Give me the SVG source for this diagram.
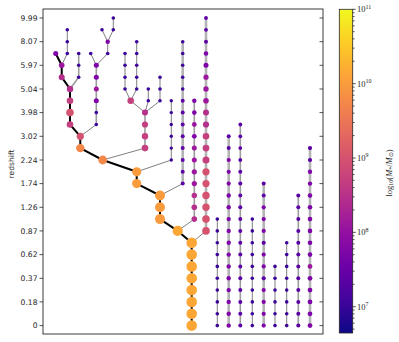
<svg xmlns="http://www.w3.org/2000/svg" width="399" height="342" viewBox="0 0 399 342">
<style>
.ax{fill:none;stroke:#262626;stroke-width:0.9}
.tk{stroke:#262626;stroke-width:0.8}
.lbl{font-family:"DejaVu Sans",sans-serif;font-size:7.6px;fill:#262626;text-anchor:end}
.cbl{font-family:"Liberation Serif",serif;font-size:8.5px;fill:#262626}
.main{stroke:#000;stroke-width:2;fill:none;stroke-linejoin:round}
.th{stroke:#5e5e5e;stroke-width:0.8;fill:none}
.md{stroke:#9c9c9c;stroke-width:1.6;fill:none}
.wd{stroke:#b4b4b4;stroke-width:2.6;fill:none}
.c1{fill:#3b049a}.c2{fill:#5c01a6}.c3{fill:#7e03a8}.c4{fill:#9c179e}.c5{fill:#b52f8c}.c6{fill:#c5407e}.c7{fill:#d5536f}.c8{fill:#e56b5d}.c9{fill:#f48849}.c10{fill:#fa9b3d}.c11{fill:#fca636}
</style>
<defs>
<linearGradient id="plasma" x1="0" y1="1" x2="0" y2="0">
<stop offset="0" stop-color="#0d0887"/><stop offset="0.1" stop-color="#41049d"/><stop offset="0.2" stop-color="#6a00a8"/><stop offset="0.3" stop-color="#8f0da4"/><stop offset="0.4" stop-color="#b12a90"/><stop offset="0.5" stop-color="#cc4778"/><stop offset="0.6" stop-color="#e16462"/><stop offset="0.7" stop-color="#f2844b"/><stop offset="0.8" stop-color="#fca636"/><stop offset="0.9" stop-color="#fcce25"/><stop offset="1" stop-color="#f0f921"/>
</linearGradient>
</defs>
<rect width="399" height="342" fill="#fff"/>
<g id="axes">
<rect class="ax" x="43" y="9" width="280" height="325"/>
<path class="tk" d="M39.5 18H43M39.5 41.7H43M39.5 65.3H43M39.5 89H43M39.5 112.6H43M39.5 136.3H43M39.5 160H43M39.5 183.6H43M39.5 207.3H43M39.5 230.9H43M39.5 254.6H43M39.5 278.3H43M39.5 301.9H43M39.5 325.6H43"/>
<path class="tk" d="M319.5 18H323M319.5 41.7H323M319.5 65.3H323M319.5 89H323M319.5 112.6H323M319.5 136.3H323M319.5 160H323M319.5 183.6H323M319.5 207.3H323M319.5 230.9H323M319.5 254.6H323M319.5 278.3H323M319.5 301.9H323M319.5 325.6H323"/>
<text class="lbl" x="37.5" y="20.7">9.99</text>
<text class="lbl" x="37.5" y="44.4">8.07</text>
<text class="lbl" x="37.5" y="68">5.97</text>
<text class="lbl" x="37.5" y="91.7">5.04</text>
<text class="lbl" x="37.5" y="115.3">3.98</text>
<text class="lbl" x="37.5" y="139">3.02</text>
<text class="lbl" x="37.5" y="162.7">2.24</text>
<text class="lbl" x="37.5" y="186.3">1.74</text>
<text class="lbl" x="37.5" y="210">1.26</text>
<text class="lbl" x="37.5" y="233.6">0.87</text>
<text class="lbl" x="37.5" y="257.3">0.62</text>
<text class="lbl" x="37.5" y="281">0.37</text>
<text class="lbl" x="37.5" y="304.6">0.18</text>
<text class="lbl" x="37.5" y="328.3">0</text>
<text class="lbl" style="text-anchor:middle" transform="translate(14,164) rotate(-90)">redshift</text>
</g>
<g id="connectors">
<polyline class="th" points="67.3,29.8 67.3,53.5 61.7,65.3"/>
<polyline class="md" points="78.7,53.5 78.7,77.2 70,89"/>
<polyline class="th" points="113.3,18 113.3,29.8 107.7,41.7 107.7,53.5 96.3,65.3"/>
<polyline class="th" points="102,29.8 107.7,41.7"/>
<polyline class="th" points="90.7,53.5 96.3,65.3"/>
<polyline class="md" points="96.3,65.3 96.3,124.5"/>
<polyline class="th" points="96.3,124.5 80.3,136.3"/>
<polyline class="th" points="125,53.5 125,89 130.7,100.8 145,112.6"/>
<polyline class="th" points="136.7,41.7 136.7,89 130.7,100.8"/>
<polyline class="th" points="148.3,89 148.3,100.8 145,112.6"/>
<polyline class="th" points="160,77.2 160,100.8 145,112.6"/>
<polyline class="md" points="145,112.6 145,148.1"/>
<polyline class="th" points="145,148.1 102.7,160"/>
<polyline class="th" points="171.3,100.8 171.3,160 136.7,171.8"/>
<polyline class="wd" points="182.7,41.7 182.7,183.6"/>
<polyline class="th" points="182.7,183.6 160,195.5"/>
<polyline class="md" points="194.3,100.8 194.3,219.1"/>
<polyline class="th" points="194.3,219.1 177.7,230.9"/>
<polyline class="wd" points="206,18 206,230.9"/>
<polyline class="th" points="206,230.9 191.7,242.8"/>
<polyline class="main" points="55.7,53.5 61.7,65.3 61.7,77.2 70,89 70,124.5 80.3,136.3 80.3,148.1 102.7,160 136.7,171.8 136.7,183.6 160,195.5 160,219.1 177.7,230.9 191.7,242.8 191.7,325.6"/>
<polyline class="th" points="217.3,219.1 217.3,325.6"/>
<polyline class="wd" points="228.7,136.3 228.7,325.6"/>
<polyline class="md" points="240.3,124.5 240.3,325.6"/>
<polyline class="th" points="252.3,219.1 252.3,325.6"/>
<polyline class="wd" points="263.7,183.6 263.7,325.6"/>
<polyline class="th" points="275,266.4 275,325.6"/>
<polyline class="th" points="286.7,242.8 286.7,325.6"/>
<polyline class="md" points="298.3,195.5 298.3,325.6"/>
<polyline class="wd" points="310,148.1 310,325.6"/>
</g>
<g id="treeA">
<circle class="c1" cx="67.3" cy="29.8" r="1.8"/><circle class="c1" cx="67.3" cy="41.7" r="1.8"/><circle class="c1" cx="67.3" cy="53.5" r="1.8"/>
<circle class="c1" cx="78.7" cy="53.5" r="1.8"/><circle class="c1" cx="78.7" cy="65.3" r="1.8"/><circle class="c1" cx="78.7" cy="77.2" r="1.8"/>
<circle class="c3" cx="55.7" cy="53.5" r="2.5"/>
<circle class="c4" cx="61.7" cy="65.3" r="2.8"/><circle class="c5" cx="61.7" cy="77.2" r="3"/>
<circle class="c5" cx="70" cy="89" r="3.2"/><circle class="c6" cx="70" cy="100.8" r="3.3"/><circle class="c7" cx="70" cy="112.6" r="3.8"/><circle class="c6" cx="70" cy="124.5" r="3.3"/>
<circle class="c7" cx="80.3" cy="136.3" r="3.6"/><circle class="c9" cx="80.3" cy="148.1" r="4.2"/>
<circle class="c9" cx="102.7" cy="160" r="4.4"/>
<circle class="c10" cx="136.7" cy="171.8" r="4.6"/><circle class="c10" cx="136.7" cy="183.6" r="4.6"/>
<circle class="c10" cx="160" cy="195.5" r="5"/><circle class="c10" cx="160" cy="207.3" r="5"/><circle class="c10" cx="160" cy="219.1" r="5"/>
<circle class="c11" cx="177.7" cy="230.9" r="5.1"/>
<circle class="c11" cx="191.7" cy="242.8" r="5.3"/><circle class="c11" cx="191.7" cy="254.6" r="5.3"/><circle class="c11" cx="191.7" cy="266.4" r="5.3"/><circle class="c11" cx="191.7" cy="278.3" r="5.3"/><circle class="c11" cx="191.7" cy="290.1" r="5.3"/><circle class="c11" cx="191.7" cy="301.9" r="5.3"/><circle class="c11" cx="191.7" cy="313.8" r="5.3"/><circle class="c11" cx="191.7" cy="325.6" r="5.3"/>
</g>
<g id="treeB">
<circle class="c1" cx="113.3" cy="18" r="1.8"/><circle class="c1" cx="113.3" cy="29.8" r="1.8"/><circle class="c1" cx="102" cy="29.8" r="1.8"/>
<circle class="c3" cx="107.7" cy="41.7" r="2.2"/><circle class="c1" cx="107.7" cy="53.5" r="1.8"/><circle class="c1" cx="90.7" cy="53.5" r="1.8"/>
<circle class="c3" cx="96.3" cy="65.3" r="2.5"/><circle class="c3" cx="96.3" cy="77.2" r="2.5"/><circle class="c4" cx="96.3" cy="89" r="2.5"/><circle class="c3" cx="96.3" cy="100.8" r="2.5"/>
<circle class="c1" cx="96.3" cy="112.6" r="1.8"/><circle class="c1" cx="96.3" cy="124.5" r="1.8"/>
</g>
<g id="treeC">
<circle class="c1" cx="125" cy="53.5" r="1.8"/><circle class="c1" cx="125" cy="65.3" r="1.8"/><circle class="c1" cx="125" cy="77.2" r="1.8"/><circle class="c1" cx="125" cy="89" r="1.8"/>
<circle class="c1" cx="136.7" cy="41.7" r="1.8"/><circle class="c1" cx="136.7" cy="53.5" r="1.8"/><circle class="c1" cx="136.7" cy="65.3" r="1.8"/><circle class="c1" cx="136.7" cy="77.2" r="1.8"/><circle class="c1" cx="136.7" cy="89" r="1.8"/>
<circle class="c6" cx="130.7" cy="100.8" r="3.3"/>
<circle class="c1" cx="148.3" cy="89" r="1.8"/><circle class="c1" cx="148.3" cy="100.8" r="1.8"/>
<circle class="c1" cx="160" cy="77.2" r="1.8"/><circle class="c1" cx="160" cy="89" r="1.8"/><circle class="c1" cx="160" cy="100.8" r="1.8"/>
<circle class="c5" cx="145" cy="112.6" r="3"/><circle class="c6" cx="145" cy="124.5" r="3.1"/><circle class="c6" cx="145" cy="136.3" r="3.2"/><circle class="c6" cx="145" cy="148.1" r="3.3"/>
</g>
<g id="treeD">
<circle class="c1" cx="171.3" cy="100.8" r="1.7"/><circle class="c1" cx="171.3" cy="112.6" r="1.7"/><circle class="c1" cx="171.3" cy="124.5" r="1.7"/><circle class="c1" cx="171.3" cy="136.3" r="1.7"/><circle class="c1" cx="171.3" cy="148.1" r="1.7"/><circle class="c1" cx="171.3" cy="160" r="1.7"/>
</g>
<g id="treeE">
<circle class="c1" cx="182.7" cy="41.7" r="1.8"/><circle class="c1" cx="182.7" cy="53.5" r="1.8"/><circle class="c1" cx="182.7" cy="65.3" r="1.8"/><circle class="c1" cx="182.7" cy="77.2" r="1.8"/><circle class="c1" cx="182.7" cy="89" r="1.8"/>
<circle class="c2" cx="182.7" cy="100.8" r="2"/><circle class="c2" cx="182.7" cy="112.6" r="2"/><circle class="c2" cx="182.7" cy="124.5" r="2"/><circle class="c2" cx="182.7" cy="136.3" r="2"/><circle class="c2" cx="182.7" cy="148.1" r="2"/><circle class="c2" cx="182.7" cy="160" r="2"/><circle class="c2" cx="182.7" cy="171.8" r="2"/><circle class="c2" cx="182.7" cy="183.6" r="2"/>
</g>
<g id="treeF">
<circle class="c3" cx="194.3" cy="100.8" r="2.2"/><circle class="c3" cx="194.3" cy="112.6" r="2.3"/><circle class="c4" cx="194.3" cy="124.5" r="2.4"/><circle class="c3" cx="194.3" cy="136.3" r="2.4"/><circle class="c4" cx="194.3" cy="148.1" r="2.5"/><circle class="c4" cx="194.3" cy="160" r="2.5"/><circle class="c4" cx="194.3" cy="171.8" r="2.6"/><circle class="c4" cx="194.3" cy="183.6" r="2.6"/><circle class="c5" cx="194.3" cy="195.5" r="2.7"/><circle class="c5" cx="194.3" cy="207.3" r="2.8"/><circle class="c5" cx="194.3" cy="219.1" r="2.8"/>
</g>
<g id="treeG">
<circle class="c2" cx="206" cy="18" r="1.9"/><circle class="c2" cx="206" cy="29.8" r="1.9"/><circle class="c2" cx="206" cy="41.7" r="2"/><circle class="c3" cx="206" cy="53.5" r="2.3"/><circle class="c3" cx="206" cy="65.3" r="2.5"/><circle class="c4" cx="206" cy="77.2" r="2.6"/><circle class="c4" cx="206" cy="89" r="2.7"/><circle class="c4" cx="206" cy="100.8" r="2.8"/><circle class="c5" cx="206" cy="112.6" r="3"/><circle class="c5" cx="206" cy="124.5" r="3.1"/><circle class="c6" cx="206" cy="136.3" r="3.3"/><circle class="c6" cx="206" cy="148.1" r="3.4"/><circle class="c6" cx="206" cy="160" r="3.5"/><circle class="c7" cx="206" cy="171.8" r="3.6"/><circle class="c7" cx="206" cy="183.6" r="3.6"/><circle class="c7" cx="206" cy="195.5" r="3.7"/><circle class="c7" cx="206" cy="207.3" r="3.7"/><circle class="c7" cx="206" cy="219.1" r="3.8"/><circle class="c7" cx="206" cy="230.9" r="3.8"/>
</g>
<g id="treeH">
<circle class="c1" cx="217.3" cy="219.1" r="1.8"/><circle class="c1" cx="217.3" cy="230.9" r="1.8"/><circle class="c1" cx="217.3" cy="242.8" r="1.8"/><circle class="c1" cx="217.3" cy="254.6" r="1.8"/><circle class="c1" cx="217.3" cy="266.4" r="1.8"/><circle class="c1" cx="217.3" cy="278.3" r="1.8"/><circle class="c1" cx="217.3" cy="290.1" r="1.8"/><circle class="c1" cx="217.3" cy="301.9" r="1.8"/><circle class="c1" cx="217.3" cy="313.8" r="1.8"/><circle class="c1" cx="217.3" cy="325.6" r="1.8"/>
</g>
<g id="treeI">
<circle class="c2" cx="228.7" cy="136.3" r="2"/><circle class="c2" cx="228.7" cy="148.1" r="2"/><circle class="c3" cx="228.7" cy="160" r="2.1"/><circle class="c3" cx="228.7" cy="171.8" r="2.1"/><circle class="c3" cx="228.7" cy="183.6" r="2.1"/><circle class="c3" cx="228.7" cy="195.5" r="2.2"/><circle class="c3" cx="228.7" cy="207.3" r="2.2"/><circle class="c3" cx="228.7" cy="219.1" r="2.2"/><circle class="c3" cx="228.7" cy="230.9" r="2.2"/><circle class="c3" cx="228.7" cy="242.8" r="2.2"/><circle class="c3" cx="228.7" cy="254.6" r="2.2"/><circle class="c3" cx="228.7" cy="266.4" r="2.2"/><circle class="c3" cx="228.7" cy="278.3" r="2.2"/><circle class="c3" cx="228.7" cy="290.1" r="2.2"/><circle class="c3" cx="228.7" cy="301.9" r="2.2"/><circle class="c3" cx="228.7" cy="313.8" r="2.2"/><circle class="c3" cx="228.7" cy="325.6" r="2.2"/>
</g>
<g id="treeJ">
<circle class="c2" cx="240.3" cy="124.5" r="1.9"/><circle class="c2" cx="240.3" cy="136.3" r="1.9"/><circle class="c2" cx="240.3" cy="148.1" r="1.9"/><circle class="c2" cx="240.3" cy="160" r="1.9"/><circle class="c2" cx="240.3" cy="171.8" r="2"/><circle class="c2" cx="240.3" cy="183.6" r="2"/><circle class="c2" cx="240.3" cy="195.5" r="2"/><circle class="c2" cx="240.3" cy="207.3" r="2"/><circle class="c2" cx="240.3" cy="219.1" r="2"/><circle class="c2" cx="240.3" cy="230.9" r="2"/><circle class="c2" cx="240.3" cy="242.8" r="2"/><circle class="c2" cx="240.3" cy="254.6" r="2"/><circle class="c2" cx="240.3" cy="266.4" r="2"/><circle class="c2" cx="240.3" cy="278.3" r="2"/><circle class="c2" cx="240.3" cy="290.1" r="2"/><circle class="c2" cx="240.3" cy="301.9" r="2"/><circle class="c2" cx="240.3" cy="313.8" r="2"/><circle class="c2" cx="240.3" cy="325.6" r="2"/>
</g>
<g id="treeK">
<circle class="c1" cx="252.3" cy="219.1" r="1.8"/><circle class="c1" cx="252.3" cy="230.9" r="1.8"/><circle class="c1" cx="252.3" cy="242.8" r="1.8"/><circle class="c1" cx="252.3" cy="254.6" r="1.8"/><circle class="c1" cx="252.3" cy="266.4" r="1.8"/><circle class="c1" cx="252.3" cy="278.3" r="1.8"/><circle class="c1" cx="252.3" cy="290.1" r="1.8"/><circle class="c1" cx="252.3" cy="301.9" r="1.8"/><circle class="c1" cx="252.3" cy="313.8" r="1.8"/><circle class="c1" cx="252.3" cy="325.6" r="1.8"/>
</g>
<g id="treeL">
<circle class="c2" cx="263.7" cy="183.6" r="2"/><circle class="c2" cx="263.7" cy="195.5" r="2"/><circle class="c3" cx="263.7" cy="207.3" r="2.1"/><circle class="c3" cx="263.7" cy="219.1" r="2.1"/><circle class="c3" cx="263.7" cy="230.9" r="2.1"/><circle class="c2" cx="263.7" cy="242.8" r="2.1"/><circle class="c3" cx="263.7" cy="254.6" r="2.1"/><circle class="c3" cx="263.7" cy="266.4" r="2.1"/><circle class="c2" cx="263.7" cy="278.3" r="2.1"/><circle class="c3" cx="263.7" cy="290.1" r="2.1"/><circle class="c3" cx="263.7" cy="301.9" r="2.1"/><circle class="c3" cx="263.7" cy="313.8" r="2.1"/><circle class="c3" cx="263.7" cy="325.6" r="2.1"/>
</g>
<g id="treeM">
<circle class="c1" cx="275" cy="266.4" r="1.8"/><circle class="c1" cx="275" cy="278.3" r="1.8"/><circle class="c1" cx="275" cy="290.1" r="1.8"/><circle class="c1" cx="275" cy="301.9" r="1.8"/><circle class="c1" cx="275" cy="313.8" r="1.8"/><circle class="c1" cx="275" cy="325.6" r="1.8"/>
</g>
<g id="treeN">
<circle class="c1" cx="286.7" cy="242.8" r="1.8"/><circle class="c1" cx="286.7" cy="254.6" r="1.8"/><circle class="c1" cx="286.7" cy="266.4" r="1.8"/><circle class="c1" cx="286.7" cy="278.3" r="1.8"/><circle class="c1" cx="286.7" cy="290.1" r="1.8"/><circle class="c1" cx="286.7" cy="301.9" r="1.8"/><circle class="c1" cx="286.7" cy="313.8" r="1.8"/><circle class="c1" cx="286.7" cy="325.6" r="1.8"/>
</g>
<g id="treeO">
<circle class="c2" cx="298.3" cy="195.5" r="2"/><circle class="c2" cx="298.3" cy="207.3" r="2"/><circle class="c2" cx="298.3" cy="219.1" r="2"/><circle class="c2" cx="298.3" cy="230.9" r="2"/><circle class="c2" cx="298.3" cy="242.8" r="2"/><circle class="c2" cx="298.3" cy="254.6" r="2"/><circle class="c2" cx="298.3" cy="266.4" r="2"/><circle class="c2" cx="298.3" cy="278.3" r="2"/><circle class="c2" cx="298.3" cy="290.1" r="2"/><circle class="c2" cx="298.3" cy="301.9" r="2"/><circle class="c2" cx="298.3" cy="313.8" r="2"/><circle class="c2" cx="298.3" cy="325.6" r="2"/>
</g>
<g id="treeP">
<circle class="c2" cx="310" cy="148.1" r="2.1"/><circle class="c2" cx="310" cy="160" r="2.1"/><circle class="c3" cx="310" cy="171.8" r="2.2"/><circle class="c3" cx="310" cy="183.6" r="2.2"/><circle class="c3" cx="310" cy="195.5" r="2.3"/><circle class="c3" cx="310" cy="207.3" r="2.3"/><circle class="c3" cx="310" cy="219.1" r="2.3"/><circle class="c3" cx="310" cy="230.9" r="2.3"/><circle class="c3" cx="310" cy="242.8" r="2.3"/><circle class="c3" cx="310" cy="254.6" r="2.3"/><circle class="c4" cx="310" cy="266.4" r="2.4"/><circle class="c3" cx="310" cy="278.3" r="2.4"/><circle class="c3" cx="310" cy="290.1" r="2.4"/><circle class="c3" cx="310" cy="301.9" r="2.4"/><circle class="c3" cx="310" cy="313.8" r="2.4"/><circle class="c3" cx="310" cy="325.6" r="2.4"/>
</g>
<g id="colorbar">
<rect x="339.3" y="9.3" width="13.4" height="323.7" fill="url(#plasma)" stroke="#262626" stroke-width="0.8"/>
<path class="tk" d="M352.7 306.7h3M352.7 232.35h3M352.7 158h3M352.7 83.65h3M352.7 9.3h3"/>
<path class="tk" stroke-width="0.6" d="M352.7 329.1h1.8M352.7 323.2h1.8M352.7 318.2h1.8M352.7 313.9h1.8M352.7 310.1h1.8M352.7 284.3h1.8M352.7 271.2h1.8M352.7 261.9h1.8M352.7 254.7h1.8M352.7 248.9h1.8M352.7 243.9h1.8M352.7 239.6h1.8M352.7 235.8h1.8M352.7 209.95h1.8M352.7 196.85h1.8M352.7 187.55h1.8M352.7 180.35h1.8M352.7 174.55h1.8M352.7 169.55h1.8M352.7 165.25h1.8M352.7 161.45h1.8M352.7 135.6h1.8M352.7 122.5h1.8M352.7 113.2h1.8M352.7 106h1.8M352.7 100.2h1.8M352.7 95.2h1.8M352.7 90.9h1.8M352.7 87.1h1.8M352.7 61.25h1.8M352.7 48.15h1.8M352.7 38.85h1.8M352.7 31.65h1.8M352.7 25.85h1.8M352.7 20.85h1.8M352.7 16.55h1.8M352.7 12.75h1.8"/>
<text class="cbl" x="357" y="12.3">10<tspan dy="-3.8" font-size="6">11</tspan></text>
<text class="cbl" x="357" y="86.6">10<tspan dy="-3.8" font-size="6">10</tspan></text>
<text class="cbl" x="357" y="161">10<tspan dy="-3.8" font-size="6">9</tspan></text>
<text class="cbl" x="357" y="235.3">10<tspan dy="-3.8" font-size="6">8</tspan></text>
<text class="cbl" x="357" y="309.7">10<tspan dy="-3.8" font-size="6">7</tspan></text>
<text class="cbl" text-anchor="middle" transform="translate(391.5,173) rotate(-90)">log<tspan font-size="6" dy="1.8">10</tspan><tspan dy="-1.8">(</tspan><tspan font-style="italic">M</tspan><tspan font-size="6" dy="1.8">*</tspan><tspan dy="-1.8">/</tspan><tspan font-style="italic">M</tspan><tspan font-size="6" dy="1.8">⊙</tspan><tspan dy="-1.8">)</tspan></text>
</g>
</svg>
